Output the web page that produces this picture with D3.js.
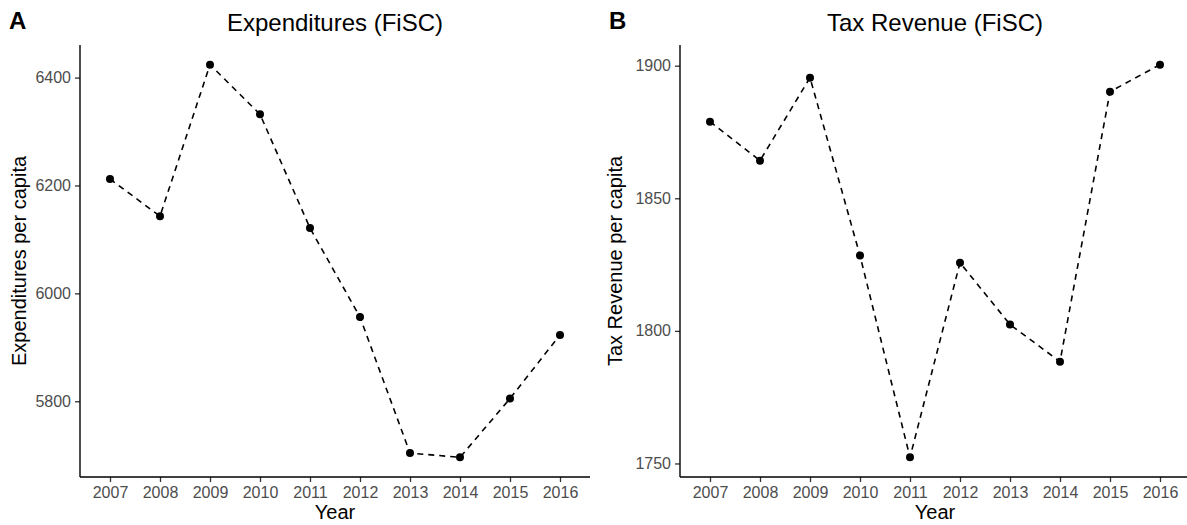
<!DOCTYPE html>
<html>
<head>
<meta charset="utf-8">
<script src="https://cdn.jsdelivr.net/npm/d3@7"></script>
<style>
  body { margin: 0; background: #fff; }
  svg { display: block; font-family: "Liberation Sans", Arial, sans-serif; }
</style>
</head>
<body>
<div id="chart"></div>
<script>
/* ── two ggplot-style panels: FiSC expenditures & tax revenue ── */

const years = ['2007', '2008', '2009', '2010', '2011', '2012', '2013', '2014', '2015', '2016'];

const expenditures = [6212, 6143, 6424, 6332, 6121, 5956, 5704, 5696, 5805, 5923];
const expTicks     = [5800, 6000, 6200, 6400];

const taxRevenue = [1878.9, 1864.2, 1895.5, 1828.4, 1752.3, 1825.7, 1802.4, 1788.4, 1890.2, 1900.4];
const taxTicks   = [1750, 1800, 1850, 1900];

const panels = [
  { tag: 'A', title: 'Expenditures (FiSC)', yTitle: 'Expenditures per capita',
    values: expenditures, ticks: expTicks, left: 80, tagX: 9, yTitleX: 26 },
  { tag: 'B', title: 'Tax Revenue (FiSC)', yTitle: 'Tax Revenue per capita',
    values: taxRevenue, ticks: taxTicks, left: 680, tagX: 609, yTitleX: 622 },
];

// ── layout ───────────────────────────────────────────────────
const W = 1187, H = 525;
const PW = 510;            // panel width
const TOP = 45, BOTTOM = 477;
const TICK = 5;
const GREY = '#4d4d4d';

const svg = d3.select('#chart').append('svg')
  .attr('width', W).attr('height', H);

panels.forEach(p => {
  const x = d3.scalePoint().domain(years)
    .range([p.left, p.left + PW]).padding(0.6);

  const [lo, hi] = d3.extent(p.values);
  const pad = (hi - lo) * 0.05;
  const y = d3.scaleLinear().domain([lo - pad, hi + pad]).range([BOTTOM, TOP]);

  const g = svg.append('g');

  // axes
  const xAxis = g.append('g').attr('transform', `translate(0,${BOTTOM})`)
    .call(d3.axisBottom(x).tickSize(TICK).tickPadding(5));
  const yAxis = g.append('g').attr('transform', `translate(${p.left},0)`)
    .call(d3.axisLeft(y).tickValues(p.ticks).tickFormat(d3.format('d'))
      .tickSize(TICK).tickPadding(4));

  [xAxis, yAxis].forEach(a => {
    a.select('.domain').remove();
    a.selectAll('.tick line').attr('stroke', '#333').attr('stroke-width', 1.3);
    a.selectAll('.tick text')
      .attr('fill', GREY).attr('font-size', 16)
      .attr('font-family', '"Liberation Sans", Arial, sans-serif');
  });

  // axis lines (panel edges)
  g.append('line')
    .attr('x1', p.left).attr('x2', p.left + PW)
    .attr('y1', BOTTOM).attr('y2', BOTTOM)
    .attr('stroke', '#000').attr('stroke-width', 1.4);
  g.append('line')
    .attr('x1', p.left).attr('x2', p.left)
    .attr('y1', TOP).attr('y2', BOTTOM)
    .attr('stroke', '#000').attr('stroke-width', 1.4);

  // dashed line + points
  const line = d3.line()
    .x((d, i) => x(years[i]))
    .y(d => y(d));

  g.append('path').datum(p.values)
    .attr('d', line)
    .attr('fill', 'none')
    .attr('stroke', '#000')
    .attr('stroke-width', 1.6)
    .attr('stroke-dasharray', '6,5');

  g.selectAll('circle').data(p.values).join('circle')
    .attr('cx', (d, i) => x(years[i]))
    .attr('cy', d => y(d))
    .attr('r', 4)
    .attr('fill', '#000');

  // titles
  const cx = p.left + PW / 2;
  g.append('text')
    .attr('x', cx).attr('y', 31)
    .attr('text-anchor', 'middle')
    .attr('font-size', 24).attr('fill', '#000')
    .text(p.title);

  g.append('text')
    .attr('x', p.tagX).attr('y', 29)
    .attr('font-size', 24).attr('font-weight', 'bold').attr('fill', '#000')
    .text(p.tag);

  g.append('text')
    .attr('x', cx).attr('y', 519)
    .attr('text-anchor', 'middle')
    .attr('font-size', 20).attr('fill', '#000')
    .text('Year');

  g.append('text')
    .attr('transform', `translate(${p.yTitleX},${(TOP + BOTTOM) / 2}) rotate(-90)`)
    .attr('text-anchor', 'middle')
    .attr('font-size', 20).attr('fill', '#000')
    .text(p.yTitle);
});
</script>
</body>
</html>
